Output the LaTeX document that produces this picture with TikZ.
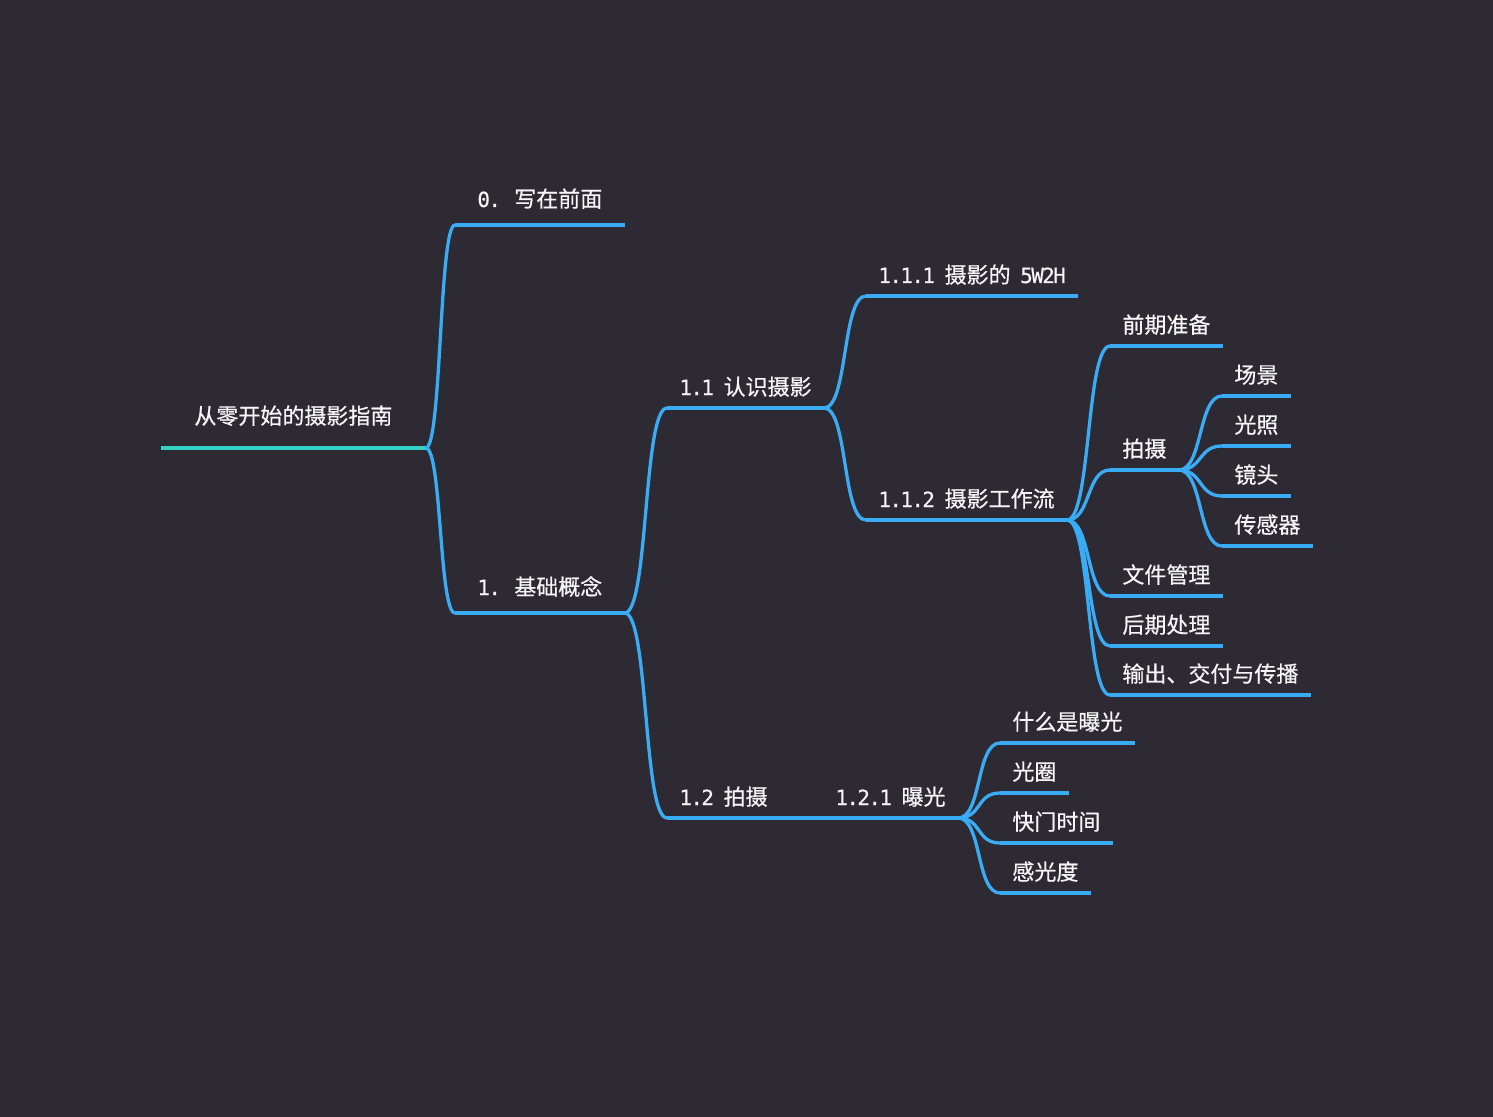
\documentclass[tikz,border=0pt]{standalone}
\usepackage{fontspec}
\setmainfont{Noto Sans CJK SC}[FakeBold=0.5]
\newfontfamily\mono{DejaVu Sans Mono}[Scale=0.95,LetterSpace=-7.6,WordSpace=0.877,FakeBold=0.4]
\newcommand{\mn}[1]{{\mono#1}}
\definecolor{Canvas}{HTML}{2E2A33}
\definecolor{BranchBlue}{HTML}{3AABF5}
\definecolor{RootTeal}{HTML}{33D1C4}
\definecolor{Label}{HTML}{F6F6F6}

\begin{document}
\begin{tikzpicture}[x=0.5pt,y=-0.5pt,
    topic/.style={anchor=south west,text=Label,inner ysep=0pt,inner xsep=6pt,
      text height=9pt,text depth=6.3pt,font=\fontsize{11}{13}\selectfont},
    major/.style={topic,inner xsep=11pt,text depth=8.8pt},
    rootnode/.style={topic,inner xsep=16.5pt,text depth=11.8pt},
    branch/.style={draw=BranchBlue,line width=1.65pt},
    fork/.style={branch,to path={(\tikztostart) .. controls ([xshift=#1]\tikztostart)
      and ([xshift=-#1]\tikztotarget) .. (\tikztotarget)}},
    fork/.default=12pt]
    \fill[Canvas] (0,0) rectangle (1493,1117);
    \useasboundingbox (0,0) rectangle (1493,1117);

    % root and first level
    \node[rootnode] (root) at (161,448) {从零开始的摄影指南};
    \node[major] (t0) at (455,225) {\mn{0. }写在前面};
    \node[major] (t1) at (455,613) {\mn{1. }基础概念};

    % second and third level
    \node[topic] (t11) at (667,408) {\mn{1.1 }认识摄影};
    \node[topic] (t12) at (667,818) {\mn{1.2 }拍摄};
    \node[topic] (t111) at (866,296) {\mn{1.1.1 }摄影的\mn{ 5W2H}};
    \node[topic] (t112) at (866,520) {\mn{1.1.2 }摄影工作流};
    \node[topic] (t121) at (823,818) {\mn{1.2.1 }曝光};

    % workflow steps
    \node[topic] (a1) at (1110,346) {前期准备};
    \node[topic] (a2) at (1110,470) {拍摄};
    \node[topic] (a3) at (1110,596) {文件管理};
    \node[topic] (a4) at (1110,646) {后期处理};
    \node[topic] (a5) at (1110,695) {输出、交付与传播};
    \node[topic] (b1) at (1222,396) {场景};
    \node[topic] (b2) at (1222,446) {光照};
    \node[topic] (b3) at (1222,496) {镜头};
    \node[topic] (b4) at (1222,546) {传感器};

    % exposure
    \node[topic] (c1) at (1000,743) {什么是曝光};
    \node[topic] (c2) at (1000,793) {光圈};
    \node[topic] (c3) at (1000,843) {快门时间};
    \node[topic] (c4) at (1000,893) {感光度};

    % underlines
    \draw[RootTeal,line width=1.65pt] (root.south west) -- (root.south east);
    \foreach \n in {t0,t1,t11,t12,t111,t112,t121,a1,a2,a3,a4,a5,b1,b2,b3,b4,c1,c2,c3,c4}
      \draw[branch] (\n.south west) -- (\n.south east);

    % connectors
    \draw[fork=8pt] (root.south east) to (t0.south west);
    \draw[fork=8pt] (root.south east) to (t1.south west);
    \draw[fork] (t1.south east) to (t11.south west);
    \draw[fork] (t1.south east) to (t12.south west);
    \draw[fork] (t11.south east) to (t111.south west);
    \draw[fork] (t11.south east) to (t112.south west);
    \draw[fork] (t12.south east) to (t121.south west);
    \foreach \n in {a1,a2,a3,a4,a5}
      \draw[fork] (t112.south east) to (\n.south west);
    \foreach \n in {b1,b2,b3,b4}
      \draw[fork] (a2.south east) to (\n.south west);
    \foreach \n in {c1,c2,c3,c4}
      \draw[fork] (t121.south east) to (\n.south west);
\end{tikzpicture}
\end{document}
